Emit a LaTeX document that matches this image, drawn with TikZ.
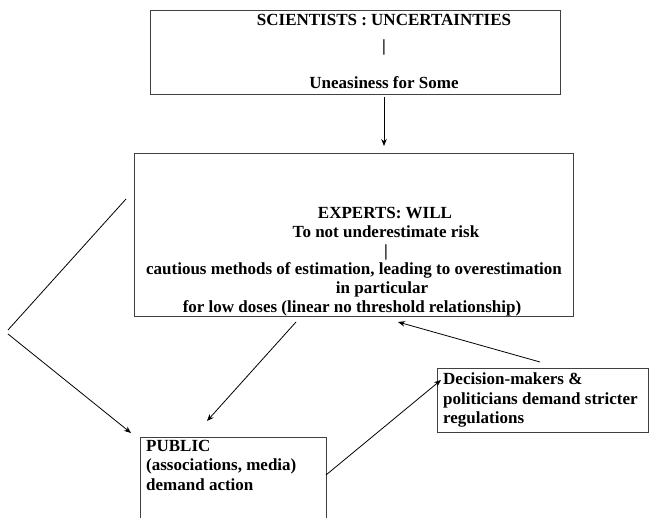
\documentclass[tikz,border=0pt]{standalone}
\usepackage{fontspec}
\setmainfont{Liberation Serif}
\usetikzlibrary{arrows.meta}
\begin{document}
\begin{tikzpicture}[x=1pt,y=-1pt,
  box/.style={draw=black!75, line width=1pt, inner sep=0pt, anchor=north west},
  lbl/.style={font=\bfseries\fontsize{17}{19.5}\selectfont, inner sep=0pt},
  conn/.style={line width=0.8pt, -{Stealth[length=7pt,width=5.5pt]}},
  plain/.style={line width=0.8pt}]
\clip (0,0) rectangle (649,518);
% boxes
\node[box, minimum width=410pt, minimum height=84pt] (sci) at (150,10) {};
\node[box, minimum width=439pt, minimum height=163pt] (exp) at (134,153) {};
\node[box, minimum width=186pt, minimum height=100pt] (pub) at (140,437) {};
\node[box, minimum width=211pt, minimum height=64pt] (dec) at (437,368) {};
% scientists text
\node[lbl] (s1) at (384,20) {SCIENTISTS : UNCERTAINTIES};
\node[lbl] (s2) at (384,47) {|};
\node[lbl] (s3) at (384,83) {Uneasiness for Some};
% experts text
\node[lbl] (e1) at (385,213) {EXPERTS: WILL};
\node[lbl] (e2) at (386,232) {To not underestimate risk};
\node[lbl] (e3) at (386,252) {|};
\node[lbl] (e4) at (354,270) {cautious methods of estimation, leading to overestimation};
\node[lbl] (e5) at (382,289) {in particular};
\node[lbl] (e6) at (352,308) {for low doses (linear no threshold relationship)};
% public text
\node[lbl, anchor=north west, align=left] (p1) at (146,440) {PUBLIC\\(associations, media)\\demand action};
% decision text
\node[lbl, anchor=north west, align=left] (d1) at (443,373) {Decision-makers \&\\politicians demand stricter\\regulations};
% connectors
\coordinate (lt) at (126,199);
\coordinate (lm1) at (8,330);
\coordinate (lm2) at (8,334);
\coordinate (lb) at (131,433);
\draw[plain] (lt) -- (lm1);
\draw[conn] (lm2) -- (lb);
\coordinate (a0) at (384,97);
\coordinate (a1) at (384,146);
\draw[conn] (a0) -- (a1);
\coordinate (ea) at (296,322);
\coordinate (pa) at (207,421);
\draw[conn] (ea) -- (pa);
\coordinate (pb) at (326,475);
\coordinate (da) at (441,380);
\draw[conn] (pb) -- (da);
\coordinate (db) at (540,362);
\coordinate (eb) at (398,322);
\draw[conn] (db) -- (eb);
\end{tikzpicture}
\end{document}
